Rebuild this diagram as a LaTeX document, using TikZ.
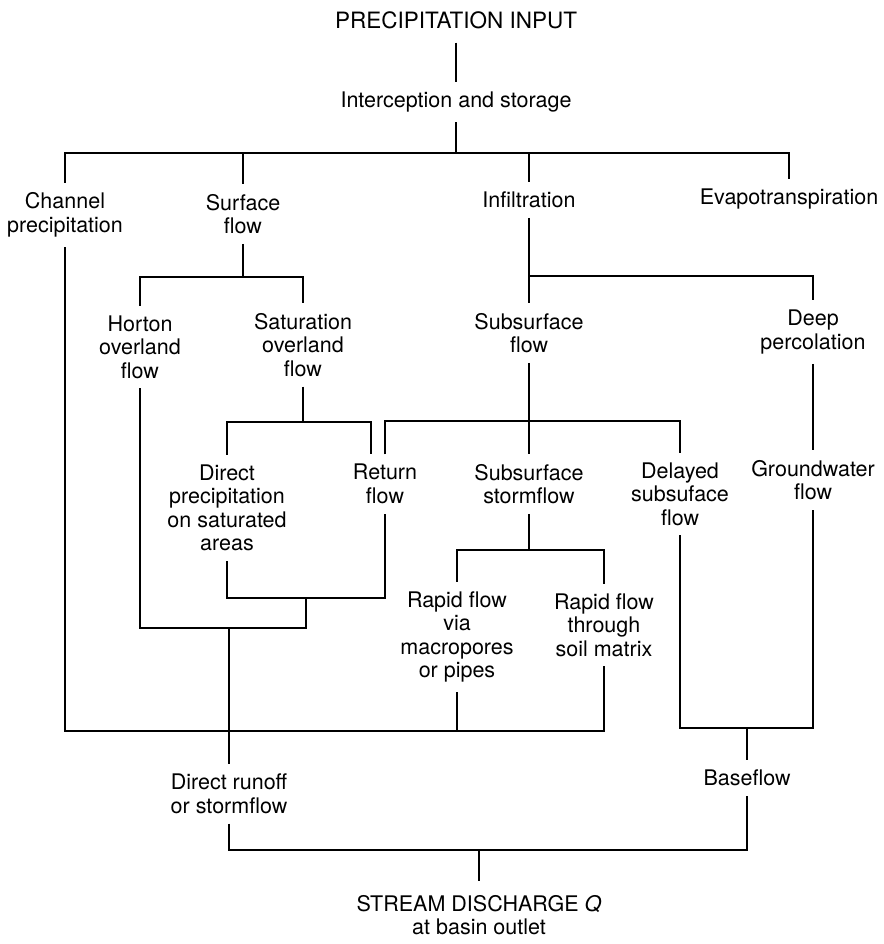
\documentclass[tikz,border=0pt]{standalone}
\usepackage{fontspec}
\setmainfont{TeX Gyre Heros}
\usetikzlibrary{calc}
\begin{document}
\begin{tikzpicture}[x=1pt,y=-1pt,line width=1.8pt,
  box/.style={align=center,inner xsep=2pt,inner ysep=9pt,font=\fontsize{21.5}{23.5}\selectfont},
  head/.style={box,inner ysep=13pt,font=\fontsize{22.5}{24}\selectfont}]
\useasboundingbox (0,0) rectangle (883,944);
% input
\node[head] (input) at (456,20) {PRECIPITATION INPUT};
\node[box] (interc) at (456,102) {Interception and storage};
% first split
\node[box] (channel) at (65,215) {Channel\\precipitation};
\node[box] (surface) at (243,214) {Surface\\flow};
\node[box] (infil) at (529,200) {Infiltration};
\node[box] (evapo) at (789,199) {Evapotranspiration};
% surface and subsurface
\node[box] (horton) at (140,347) {Horton\\overland\\flow};
\node[box] (satur) at (303,345) {Saturation\\overland\\flow};
\node[box] (subsurf) at (529,333) {Subsurface\\flow};
\node[box] (deep) at (813,332) {Deep\\percolation};
\node[box] (direct) at (227,508) {Direct\\precipitation\\on saturated\\areas};
\node[box] (ret) at (385,484) {Return\\flow};
\node[box] (storm) at (529,484) {Subsurface\\stormflow};
\node[box] (delayed) at (680,494) {Delayed\\subsuface\\flow};
\node[box] (ground) at (813,480) {Groundwater\\flow};
\node[box] (via) at (457,637) {Rapid flow\\via\\macropores\\or pipes};
\node[box] (thr) at (604,625) {Rapid flow\\through\\soil matrix};
% output
\node[box] (runoff) at (229,794) {Direct runoff\\or stormflow};
\node[box] (base) at (747,778) {Baseflow};
\node[head,font=\fontsize{21.5}{23.5}\selectfont] (stream) at (479,915) {STREAM DISCHARGE \textit{Q}\\at basin outlet};
% junctions
\coordinate (j1) at (456,153);
\coordinate (sfj) at (243,277);
\coordinate (ij) at (529,276);
\coordinate (aj) at (303,422);
\coordinate (uj) at (529,421);
\coordinate (sj) at (529,550);
\coordinate (dj) at (306,598);
\coordinate (hj) at (229,628);
\coordinate (bj) at (457,731);
\coordinate (gj) at (747,728);
\coordinate (fj) at (479,850);
% connectors
\draw (input) -- (interc);
\draw (interc) -- (j1);
\draw (channel) |- (j1) -| (evapo);
\draw (j1) -| (surface);
\draw (j1) -| (infil);
\draw (surface) -- (sfj);
\draw (horton) |- (sfj) -| (satur);
\draw (infil) -- (subsurf);
\draw (ij) -| (deep);
\draw (satur) -- (aj);
\draw (direct) |- (aj) -| ([xshift=-14pt]ret.north);
\draw (subsurf) -- (storm);
\draw (ret) |- (uj) -| (delayed);
\draw (deep) -- (ground);
\draw (storm) -- (sj);
\draw (via) |- (sj) -| (thr);
\draw (direct) |- (dj) -| (ret);
\draw (dj) |- (hj);
\draw (horton) |- (hj);
\draw (hj) -- (runoff);
\draw (channel) |- (bj) -| (thr);
\draw (via) -- (bj);
\draw (delayed) |- (gj) -| (ground);
\draw (gj) -- (base);
\draw (runoff) |- (fj) -| (base);
\draw (fj) -- (stream);
\end{tikzpicture}
\end{document}
